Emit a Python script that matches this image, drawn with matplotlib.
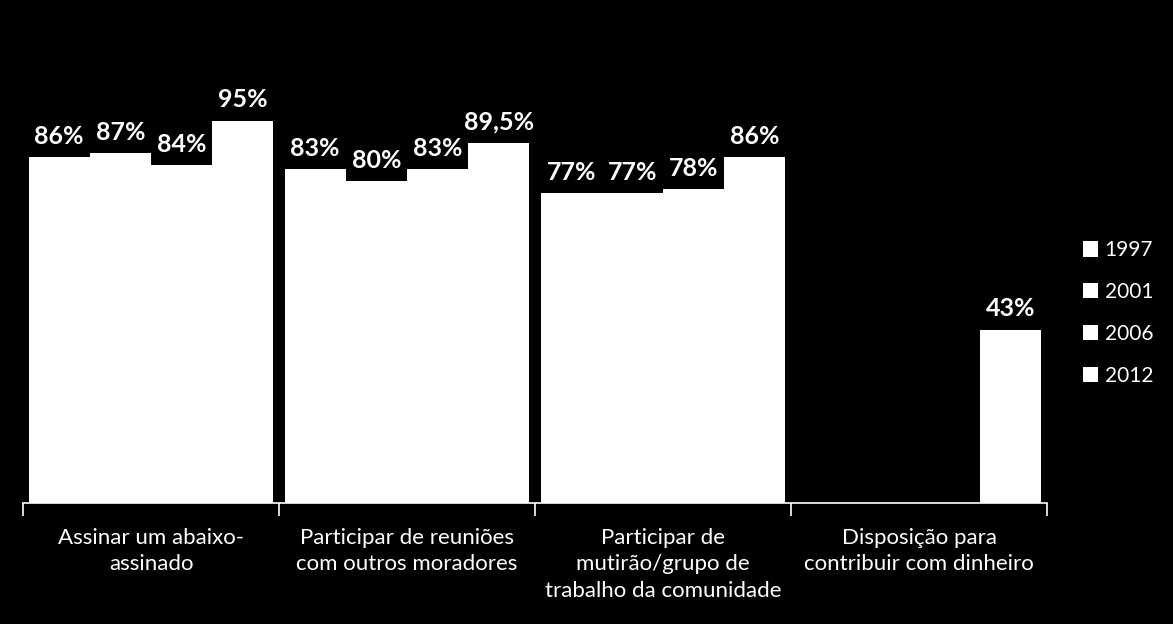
import numpy as np
import matplotlib.pyplot as plt
from matplotlib.patches import Patch

plt.rcParams['font.family'] = ['Lato', 'DejaVu Sans']

categories = ['Assinar um abaixo-\nassinado',
              'Participar de reuniões\ncom outros moradores',
              'Participar de\nmutirão/grupo de\ntrabalho da comunidade',
              'Disposição para\ncontribuir com dinheiro']
years = ['1997', '2001', '2006', '2012']
v1997 = [86, 83, 77, np.nan]
v2001 = [87, 80, 77, np.nan]
v2006 = [84, 83, 78, np.nan]
v2012 = [95, 89.5, 86, 43]
series = [v1997, v2001, v2006, v2012]

fig = plt.figure(figsize=(11.73, 6.24), dpi=100, facecolor='black')
ax = fig.add_axes([23 / 1173, 121 / 624, 1024 / 1173, 402 / 624])
ax.set_facecolor('black')

x = np.arange(len(categories))
width = 0.239
for i, vals in enumerate(series):
    pos = x + (i - 1.5) * width
    ax.bar(pos, vals, width, color='white', edgecolor='none', label=years[i])
    for px, v in zip(pos, vals):
        if np.isnan(v):
            continue
        txt = f'{v:g}'.replace('.', ',') + '%'
        ax.annotate(txt, (px, v), xytext=(0, 7), textcoords='offset points',
                    ha='center', va='bottom', color='white', fontsize=18,
                    fontweight='bold', clip_on=False)

ax.set_xlim(-0.5, len(categories) - 0.5)
ax.set_ylim(0, 100)
ax.set_xticks(x)
ax.set_xticklabels(categories, color='white', fontsize=16, linespacing=1.4)
ax.tick_params(axis='x', which='major', length=0, pad=18)
ax.set_xticks(np.arange(-0.5, len(categories)), minor=True)
ax.tick_params(axis='x', which='minor', length=9, color='white', width=1.2)
ax.set_yticks([])
for s in ['top', 'right', 'left']:
    ax.spines[s].set_visible(False)
ax.spines['bottom'].set_color('white')
ax.spines['bottom'].set_linewidth(1.2)

handles = [Patch(facecolor='white', edgecolor='none') for _ in years]
fig.legend(handles, years, loc='center left', bbox_to_anchor=(1064 / 1173, 311 / 624),
           frameon=False, fontsize=15, labelcolor='white', handlelength=0.75,
           handleheight=0.75, handletextpad=0.3, labelspacing=1.05)

fig.savefig('out.png', dpi=100, facecolor='black')
